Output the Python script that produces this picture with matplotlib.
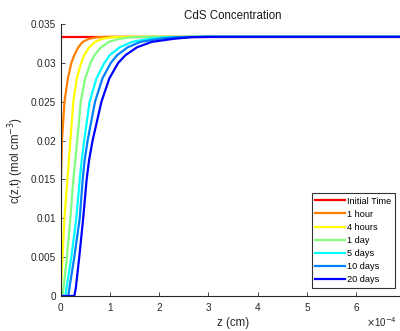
import matplotlib
matplotlib.use("Agg")
import matplotlib.pyplot as plt

plt.rcParams['font.family'] = ['Liberation Sans', 'DejaVu Sans']

# concentration levels (mol cm^-3) where each curve was read
c_levels = [0.0, 0.001, 0.005, 0.01, 0.015, 0.0175, 0.02, 0.025, 0.028,
            0.030, 0.031, 0.032, 0.0327, 0.0331, 0.0333, 0.03335, 0.03335]
c_init = 0.03335

# z positions (x1e-4 cm) at each level
z_4h = [0.0, 0.01, 0.04, 0.08, 0.14, 0.17, 0.20, 0.26, 0.33,
        0.42, 0.48, 0.58, 0.70, 0.85, 1.05, 1.4, 7.0]
z_1d = [0.04, 0.06, 0.13, 0.20, 0.26, 0.30, 0.34, 0.41, 0.50,
        0.61, 0.69, 0.82, 0.98, 1.2, 1.45, 1.9, 7.0]
z_5d = [0.10, 0.12, 0.22, 0.32, 0.39, 0.43, 0.48, 0.59, 0.73,
        0.89, 1.00, 1.20, 1.45, 1.8, 2.15, 2.7, 7.0]
z_10d = [0.16, 0.18, 0.28, 0.39, 0.45, 0.49, 0.55, 0.70, 0.85,
         1.02, 1.15, 1.36, 1.62, 2.0, 2.35, 2.9, 7.0]
z_20d = [0.28, 0.31, 0.38, 0.46, 0.53, 0.58, 0.65, 0.83, 0.99,
         1.17, 1.32, 1.55, 1.85, 2.3, 2.65, 3.1, 7.0]

# 1 hour curve starts above zero at the surface
c_1h = [0.0134, 0.015, 0.0175, 0.02, 0.025, 0.028, 0.030, 0.031,
        0.032, 0.0327, 0.0331, 0.0333, 0.03335, 0.03335]
z_1h = [0.0, 0.01, 0.02, 0.03, 0.08, 0.15, 0.22, 0.28,
        0.36, 0.45, 0.58, 0.75, 1.0, 7.0]

labels = ['Initial Time', '1 hour', '4 hours', '1 day', '5 days', '10 days', '20 days']
colors = ['#ff0000', '#ff8000', '#ffff00', '#80ff80', '#00ffff', '#0080ff', '#0000ff']

yticks = [0, 0.005, 0.01, 0.015, 0.02, 0.025, 0.03, 0.035]
ytick_labels = ['0', '0.005', '0.01', '0.015', '0.02', '0.025', '0.03', '0.035']
xticks = [0, 1, 2, 3, 4, 5, 6]

fig = plt.figure(figsize=(4.0, 3.31), dpi=100)
ax = fig.add_axes([60.5/400, 1-296/331, (405.8-60.5)/400, (296-24)/331])

lw = 1.6
ax.plot([0, 7], [c_init, c_init], color=colors[0], lw=lw, label=labels[0])
ax.plot(z_1h, c_1h, color=colors[1], lw=lw, label=labels[1])
curves = [z_4h, z_1d, z_5d, z_10d, z_20d]
for i, z in enumerate(curves):
    zz = [0.0] + z
    cc = [0.0] + c_levels
    ax.plot(zz, cc, color=colors[i + 2], lw=lw, label=labels[i + 2])

ax.set_xlim(0, 7)
ax.set_ylim(0, 0.035)
ax.set_xticks(xticks)
ax.set_yticks(yticks)
ax.set_yticklabels(ytick_labels)
for s in ['top', 'right']:
    ax.spines[s].set_visible(False)
for s in ['left', 'bottom']:
    ax.spines[s].set_color('#262626')
    ax.spines[s].set_linewidth(0.8)
ax.tick_params(direction='in', length=3, width=0.6, colors='#262626',
               labelsize=7.2)
ax.tick_params(axis='x', pad=5)
ax.tick_params(axis='y', pad=3)

ax.set_title('CdS Concentration', fontsize=8.3, color='#1a1a1a', pad=3.5)
ax.set_xlabel('z (cm)', fontsize=8.3, color='#262626', labelpad=3)
ax.set_ylabel('c(z,t) (mol cm$^{-3}$)', fontsize=8.3, color='#262626', labelpad=4)
# exponent of the z axis, kept inside the figure
fig.text(397/400, 1-322/331, r'$\times$10$^{-4}$', fontsize=7, color='#262626',
         va='center', ha='right')

leg = ax.legend(loc='lower right', bbox_to_anchor=(394.5/400, 1-287.5/331),
                bbox_transform=fig.transFigure, fontsize=6.6, frameon=True,
                fancybox=False, edgecolor='black', handlelength=3.3,
                handletextpad=0.2, labelspacing=0.45, borderpad=0.35,
                borderaxespad=0)
leg.get_frame().set_linewidth(0.8)

fig.savefig('out.png', dpi=100)
